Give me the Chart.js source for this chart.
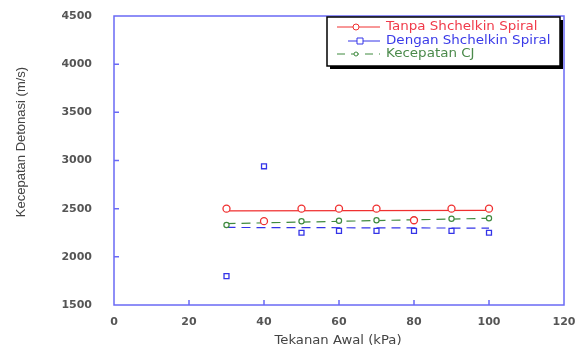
<!DOCTYPE html>
<html>
<head>
<meta charset="utf-8">
<script src="https://cdn.jsdelivr.net/npm/chart.js@4.4.1/dist/chart.umd.min.js"></script>
<style>
  html, body { margin: 0; padding: 0; background: #fff; }
  #wrap { width: 577px; height: 351px; }
</style>
</head>
<body>
<div id="wrap"><canvas id="chart"></canvas></div>
<script>
// Data
const pressure = [30, 40, 50, 60, 70, 80, 90, 100];
const tanpaSpiral = [2500, 2370, 2500, 2500, 2500, 2380, 2500, 2500];
const denganSpiral = [1800, 2940, 2250, 2270, 2270, 2270, 2270, 2250];
const kecepatanCJ = [2330, 2370, 2370, 2375, 2380, 2385, 2395, 2400];

// fitted trend lines (end points)
const fitX = [30, 100];
const tanpaFit = [2478, 2482];
const denganFit = [2305, 2298];
const cjFit = [2345, 2400];

const xTicks = [0, 20, 40, 60, 80, 100, 120];
const yTicks = [1500, 2000, 2500, 3000, 3500, 4000, 4500];

const seriesNames = ['Tanpa Shchelkin Spiral', 'Dengan Shchelkin Spiral', 'Kecepatan CJ'];

const RED = '#f03030', BLUE = '#3434e8', GREEN = '#3f8a3f', AXIS = '#6a6af5';

const pts = (xs, ys) => xs.map((x, i) => ({ x: x, y: ys[i] }));

// text stretched sideways, like the scanned original
function wideText(ctx, str, x, y, sx) {
  ctx.save();
  ctx.translate(x, y);
  ctx.scale(sx, 1);
  ctx.fillText(str, 0, 0);
  ctx.restore();
}

// inward ticks, top/right border, titles and boxed legend
const decor = {
  id: 'decor',
  afterDraw(chart) {
    const ctx = chart.ctx, a = chart.chartArea;
    const xs = chart.scales.x, ys = chart.scales.y;
    ctx.save();
    ctx.strokeStyle = AXIS;
    ctx.lineWidth = 1.5;
    ctx.strokeRect(a.left, a.top, a.right - a.left, a.bottom - a.top);
    ctx.beginPath();
    xTicks.slice(1, -1).forEach(v => {
      const px = xs.getPixelForValue(v);
      ctx.moveTo(px, a.bottom); ctx.lineTo(px, a.bottom - 5);
    });
    yTicks.slice(1, -1).forEach(v => {
      const py = ys.getPixelForValue(v);
      ctx.moveTo(a.left, py); ctx.lineTo(a.left + 5, py);
    });
    ctx.stroke();

    // axis titles
    ctx.fillStyle = '#444';
    ctx.font = '12px "DejaVu Sans"';
    ctx.textAlign = 'center';
    ctx.textBaseline = 'middle';
    wideText(ctx, 'Tekanan Awal (kPa)', 338, 341, 1.1);
    ctx.save();
    ctx.translate(21, 142);
    ctx.rotate(-Math.PI / 2);
    ctx.font = '13px "Liberation Sans Narrow", "Liberation Sans"';
    ctx.fillText('Kecepatan Detonasi (m/s)', 0, 0);
    ctx.restore();

    // legend box with shadow
    const L = 327, T = 17, W = 233, H = 49;
    ctx.fillStyle = '#000';
    ctx.fillRect(L + 3, T + 3, W, H);
    ctx.fillStyle = '#fff';
    ctx.fillRect(L, T, W, H);
    ctx.strokeStyle = '#000';
    ctx.lineWidth = 1.5;
    ctx.strokeRect(L, T, W, H);

    const rows = [
      { y: 27, color: RED, dash: [], shape: 'circle', text: '#f03a4a' },
      { y: 41, color: BLUE, dash: [], shape: 'square', text: '#3a3ae8' },
      { y: 54, color: GREEN, dash: [8, 6], shape: 'circle', text: '#4b8a4b' }
    ];
    rows.forEach((r, i) => {
      ctx.strokeStyle = r.color;
      ctx.lineWidth = 1;
      ctx.setLineDash(r.dash);
      ctx.beginPath();
      ctx.moveTo(i === 1 ? 348 : 337, r.y);
      ctx.lineTo(380, r.y);
      ctx.stroke();
      ctx.setLineDash([]);
      ctx.fillStyle = '#fff';
      ctx.beginPath();
      if (r.shape === 'square') ctx.rect(357, r.y - 3, 6, 6);
      else ctx.arc(356, r.y, i === 2 ? 2 : 3, 0, Math.PI * 2);
      ctx.fill();
      ctx.stroke();
      ctx.fillStyle = r.text;
      ctx.font = '11.5px "DejaVu Sans"';
      ctx.textAlign = 'left';
      wideText(ctx, seriesNames[i], 386, r.y, 1.17);
    });
    ctx.restore();
  }
};

new Chart(document.getElementById('chart'), {
  type: 'scatter',
  data: {
    datasets: [
      { label: seriesNames[0], data: pts(pressure, tanpaSpiral), showLine: false, order: 0,
        pointStyle: 'circle', pointRadius: 3.5, borderColor: RED, backgroundColor: '#fff', borderWidth: 1.3 },
      { label: seriesNames[1], data: pts(pressure, denganSpiral), showLine: false, order: 0,
        pointStyle: 'rect', pointRadius: 3.5, borderColor: BLUE, backgroundColor: '#fff', borderWidth: 1.3 },
      { label: seriesNames[2], data: pts(pressure, kecepatanCJ), showLine: false, order: 0,
        pointStyle: 'circle', pointRadius: 2.6, borderColor: GREEN, backgroundColor: '#fff', borderWidth: 1.2 },
      { label: 'fit1', data: pts(fitX, tanpaFit), showLine: true, order: 1, pointRadius: 0,
        borderColor: RED, borderWidth: 1.2 },
      { label: 'fit2', data: pts(fitX, denganFit), showLine: true, order: 1, pointRadius: 0,
        borderColor: BLUE, borderWidth: 1.2, borderDash: [9, 6] },
      { label: 'fit3', data: pts(fitX, cjFit), showLine: true, order: 1, pointRadius: 0,
        borderColor: GREEN, borderWidth: 1.2, borderDash: [9, 6] }
    ]
  },
  options: {
    responsive: true,
    maintainAspectRatio: false,
    animation: false,
    layout: { padding: { left: 0, right: 13, top: 16, bottom: 0 } },
    plugins: { legend: { display: false }, tooltip: { enabled: false } },
    scales: {
      x: {
        type: 'linear', min: 0, max: 120,
        afterBuildTicks: s => { s.ticks = xTicks.map(v => ({ value: v })); },
        afterFit: s => { s.height = 46; s.paddingLeft = 0; s.paddingRight = 0; },
        grid: { display: false },
        border: { display: false },
        ticks: { padding: 3, color: '#555', callback: v => String(v),
                 font: { family: 'DejaVu Sans', size: 11, weight: 'bold' } }
      },
      y: {
        type: 'linear', min: 1500, max: 4500,
        afterBuildTicks: s => { s.ticks = yTicks.map(v => ({ value: v })); },
        afterFit: s => { s.width = 114; s.paddingTop = 0; s.paddingBottom = 0; },
        grid: { display: false },
        border: { display: false },
        ticks: { padding: 14, color: '#555', callback: v => String(v),
                 font: { family: 'DejaVu Sans', size: 11, weight: 'bold' } }
      }
    }
  },
  plugins: [decor]
});
</script>
</body>
</html>
